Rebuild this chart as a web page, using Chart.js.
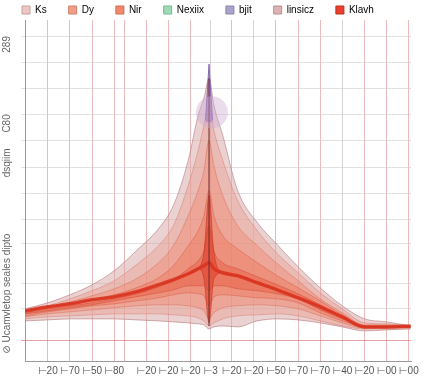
<!DOCTYPE html>
<html><head><meta charset="utf-8">
<script src="https://cdn.jsdelivr.net/npm/chart.js@4"></script>
<style>html,body{margin:0;padding:0;background:#fff}#wrap{width:427px;height:382px;position:relative}</style>
</head><body><div id="wrap"><canvas id="c"></canvas></div>
<script>
// ---------- data ----------
const xs = [-1.03,0,1,2,3,4,5,5.67,6.34,6.79,7.05,7.28,7.5,7.9,8.57,9.46,10.36,11.3,12.3,13.3,14.3,15.3,16.38];
const xTickValues = [0,1,2,3,3.45,4.45,5.45,6.45,7.35,8.3,9.3,10.3,11.3,12.3,13.3,14.3,15.3,16.3];
const xTickLabels = ["⊢20","⊢70","⊢50","⊢80","","⊢20","⊢20","⊢20","⊢3","⊢20","⊢20","⊢50","⊢70","⊢70","⊢40","⊢20","⊢00","⊢00"];
const yTickValues = [20,52,77,117,127,141,167,193,212,220,246,272,298,324];
const yTickLabels = ["","","","","⊘ Ucamvletop seales dipto","","","","dsqiim","","C80","","","289"];
const legendNames = ["Ks","Dy","Nir","Nexiix","bjit","linsicz","Klavh"];

const linsiczHigh = [52,58,66,76,90,110,132,155,200,245,262,282,255,225,170,138,116,94,73,55,42,39,35];
const linsiczLow  = [40,41,42,42,42,41,40,39,38,37,36,32,34,35,34,40,42,41,38,34,30,31,32];
const ksHigh  = [50,55,62,70,80,96,115,135,175,210,235,255,230,200,160,130,107,88,68,52,38,37,35];
const ksLow   = [42,44,45,46,47,47,47,46,45,43,40,35,38,42,45,46,47,45,40,35,32,32,33];
const dyHigh  = [50,54,59,65,72,82,98,115,145,170,190,220,195,165,135,115,97,80,62,48,36,36,34];
const dyLow   = [44,47,49,51,53,55,56,56,55,53,50,42,48,53,55,56,55,52,45,38,33,33,33];
const nirHigh = [49,53,57,61,66,73,83,95,115,130,145,170,145,125,112,98,85,73,60,46,35,35,34];
const nirLow  = [45,49,52,55,57,60,63,66,68,67,65,55,64,66,65,63,62,58,48,40,34,34,34];
const coreHigh = [48,52,55,58,62,67,74,81,92,100,110,135,110,98,92,84,76,67,56,44,34,34,34];
const coreLow  = [47,50,53,56,60,64,68,71,75,75,75,70,75,75,72,70,67,62,51,42,35,34,34];
const klavh    = [50,54,57,61,64,69,76,81,87,92,95,98,92,88,85,78,71,63,54,44,34,34,35];
const wedgeHigh = [50,54,57,61,64,69,76,81,87,92,108,165,108,88,85,78,71,63,54,44,34,34,35];
const wedgeLow  = [50,54,57,61,64,69,76,81,87,92,82,38,82,88,85,78,71,63,54,44,34,34,35];
const centerX = [7.28,7.28];
const centerY = [35,282];
const bjitX = [7.12,7.28,7.44];
const bjitY = [240,296,240];
const bubbleX = [7.41];
const bubbleY = [248];

// ---------- styles ----------
const pts = arr => arr.map((y,i)=>({x:xs[i], y}));
const ds = [];
function addBand(low, high, fill, border, ord){
  const li = ds.length;
  ds.push({label:'_low', data:pts(low), borderColor:border, borderWidth:0.8, fill:false, order:ord});
  ds.push({label:'_high', data:pts(high), borderColor:border, borderWidth:0.8, backgroundColor:fill, fill:{target:li}, order:ord});
}
addBand(linsiczLow, linsiczHigh, 'rgba(214,165,165,0.50)', 'rgba(185,120,120,0.75)', 9);
addBand(ksLow, ksHigh, 'rgba(236,160,145,0.45)', 'rgba(215,120,105,0.6)', 8);
addBand(dyLow, dyHigh, 'rgba(238,138,112,0.45)', 'rgba(215,105,85,0.6)', 7);
addBand(nirLow, nirHigh, 'rgba(238,118,92,0.45)', 'rgba(210,90,70,0.6)', 6);
addBand(coreLow, coreHigh, 'rgba(232,90,65,0.45)', 'rgba(205,70,50,0.6)', 5);
addBand(wedgeLow, wedgeHigh, 'rgba(220,60,40,0.55)', 'rgba(190,50,35,0.7)', 4);
ds.push({label:'_klavh', data:pts(klavh), borderColor:'rgba(218,50,30,0.85)', borderWidth:3.5, fill:false, order:2});
ds.push({label:'_center', data:centerX.map((x,i)=>({x, y:centerY[i]})), borderColor:'rgba(110,40,40,0.85)', borderWidth:1.2, fill:false, order:1, cubicInterpolationMode:'default', tension:0});
ds.push({label:'_bjit', data:bjitX.map((x,i)=>({x, y:bjitY[i]})), borderColor:'rgba(125,95,175,0.9)', borderWidth:1, backgroundColor:'rgba(140,110,190,0.7)', fill:{value:238}, order:1, cubicInterpolationMode:'default', tension:0});
ds.push({type:'bubble', label:'_bubble', data:bubbleX.map((x,i)=>({x, y:bubbleY[i], r:16})), backgroundColor:'rgba(205,172,212,0.42)', borderWidth:0, order:0});

const legendColors = {
  Ks:['#ecc6c2','#c9a09c'], Dy:['#ef9e88','#cf7e68'], Nir:['#f0886d','#d06a50'],
  Nexiix:['#9fdab7','#78b894'], bjit:['#aaa4cc','#8a84ac'], linsicz:['#dcb2b2','#b89090'], Klavh:['#e8402e','#c02a1c']
};

const legendFix = {
  id:'legendFix',
  beforeDraw(chart){ if(chart.legend){ chart.legend.top = -17; chart.legend.bottom = chart.legend.top + 40; } }
};

new Chart(document.getElementById('c'), {
  type:'line',
  data:{datasets:ds},
  plugins:[legendFix],
  options:{
    animation:false, responsive:true, maintainAspectRatio:false,
    layout:{padding:{left:0,right:10,top:0,bottom:1}},
    elements:{point:{radius:0}, line:{cubicInterpolationMode:'monotone'}},
    scales:{
      x:{type:'linear', min:-1.03, max:16.4,
        afterBuildTicks:s=>{ s.ticks = xTickValues.map(v=>({value:v})); },
        ticks:{autoSkip:false, maxRotation:0, callback:(v,i)=>xTickLabels[i], font:{size:10, family:'Liberation Sans, DejaVu Sans, sans-serif'}, color:'#555', padding:4},
        grid:{drawTicks:false, color:c=>{ const i=c.index; return (i===8||i===10||i===14)?'rgba(185,175,185,0.55)':'rgba(215,120,120,0.5)'; }},
        border:{color:'#9a9a9a'}
      },
      y:{min:0, max:340,
        afterBuildTicks:s=>{ s.ticks = yTickValues.map(v=>({value:v})); },
        afterFit:s=>{ s.width = 25; },
        ticks:{autoSkip:false, minRotation:90, maxRotation:90, callback:(v,i)=>yTickLabels[i], font:{size:10, family:'Liberation Sans, DejaVu Sans, sans-serif'}, color:'#666', padding:14},
        grid:{tickLength:4, color:c=>{ const v=c.tick&&c.tick.value; if(v===20) return 'rgba(215,110,110,0.65)'; if(v===127||v===212) return 'rgba(0,0,0,0)'; return 'rgba(200,200,208,0.55)'; }},
        border:{color:'#9a9a9a'}
      }
    },
    plugins:{
      tooltip:{enabled:false},
      legend:{position:'top', align:'start', maxHeight:20,
        labels:{boxWidth:8, boxHeight:8, padding:22, color:'#555', font:{size:10, family:'Liberation Sans, DejaVu Sans, sans-serif'},
          generateLabels:()=>legendNames.map((n,i)=>({text:n, fillStyle:legendColors[n][0], strokeStyle:legendColors[n][1], lineWidth:1, hidden:false, datasetIndex:i}))
        }
      }
    }
  }
});
</script></body></html>
